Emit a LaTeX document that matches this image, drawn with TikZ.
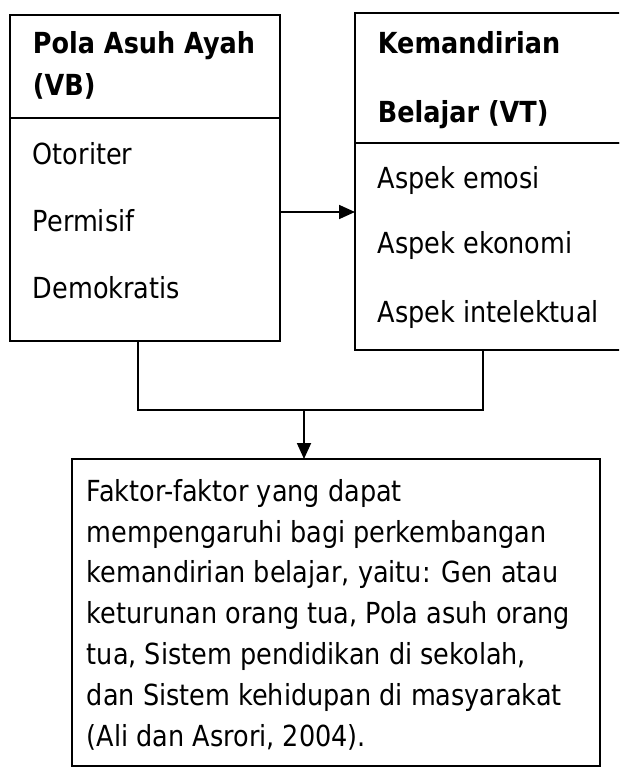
\documentclass[tikz,border=0pt]{standalone}
\usepackage{fontspec}
\setmainfont{DejaVu Sans}[FakeStretch=0.88]
\usetikzlibrary{arrows.meta}

\begin{document}
\begin{tikzpicture}[x=1pt,y=-1pt,line width=1.8pt,
  box/.style={draw,inner sep=0pt,outer sep=0pt,anchor=north west},
  txt/.style={inner sep=0pt,anchor=base west,font=\fontsize{29}{40.8}\selectfont},
  bold/.style={txt,font=\fontsize{29}{40.8}\selectfont\bfseries},
  tip/.style={-{Triangle[length=16pt,width=14pt]}}]
\useasboundingbox (0,0) rectangle (619,768);
\clip (0,0) rectangle (619,768);
% boxes
\node[box,minimum width=270pt,minimum height=103pt] (vbhead) at (10,15) {};
\node[box,minimum width=270pt,minimum height=223pt] (vbbody) at (10,118) {};
\node[box,minimum width=290pt,minimum height=130pt] (vthead) at (355,13) {};
\node[box,minimum width=290pt,minimum height=207pt] (vtbody) at (355,143) {};
\node[box,minimum width=528pt,minimum height=307pt] (faktor) at (72,459) {};
% texts
\node[bold] (pola) at (32,53) {Pola Asuh Ayah};
\node[bold] (vb) at (32,95) {(VB)};
\node[txt] (otoriter) at (32,164) {Otoriter};
\node[txt] (permisif) at (32,231) {Permisif};
\node[txt] (demokratis) at (32,298) {Demokratis};
\node[bold] (kemandirian) at (377,53) {Kemandirian};
\node[bold] (belajar) at (377,122) {Belajar (VT)};
\node[txt] (emosi) at (377,188) {Aspek emosi};
\node[txt] (ekonomi) at (377,253) {Aspek ekonomi};
\node[txt] (intelektual) at (377,322) {Aspek intelektual};
\node[txt,align=left] (isi) at (86,746) {Faktor-faktor yang dapat\\
mempengaruhi bagi perkembangan\\
kemandirian belajar, yaitu: Gen atau\\
keturunan orang tua, Pola asuh orang\\
tua, Sistem pendidikan di sekolah,\\
dan Sistem kehidupan di masyarakat\\
(Ali dan Asrori, 2004).};
% connectors
\coordinate (join) at (304,410);
\draw[tip] (vbbody.east |- 0,212) -- (vtbody.west |- 0,212);
\draw ([xshift=128pt]vbbody.south west) |- (join) -| ([xshift=128pt]vtbody.south west);
\draw[tip] (join) -- (join |- faktor.north);
\end{tikzpicture}
\end{document}
